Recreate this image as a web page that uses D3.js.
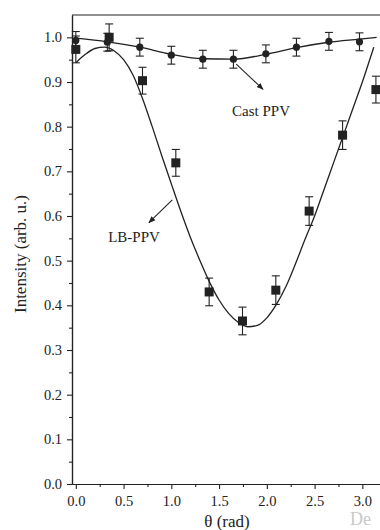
<!DOCTYPE html>
<html>
<head>
<meta charset="utf-8">
<script src="https://cdn.jsdelivr.net/npm/d3@7"></script>
<style>
  html, body { margin: 0; padding: 0; background: #fff; }
  svg { display: block; font-family: "Liberation Serif", "Times New Roman", serif; }
</style>
</head>
<body>
<svg id="chart" width="380" height="530"></svg>
<script>
// ---- data ----
const lbTheta = [0, 0.349, 0.698, 1.047, 1.396, 1.745, 2.094, 2.443, 2.793, 3.142];
const lbValue = [0.973, 1.0, 0.903, 0.719, 0.430, 0.365, 0.434, 0.611, 0.781, 0.883];
const lbError = [0.03, 0.03, 0.03, 0.03, 0.031, 0.031, 0.032, 0.032, 0.032, 0.03];

const castTheta = [0, 0.33, 0.67, 1.0, 1.33, 1.65, 1.99, 2.31, 2.65, 2.97];
const castValue = [0.993, 0.989, 0.978, 0.960, 0.951, 0.951, 0.963, 0.978, 0.991, 0.990];
const castError = [0.02, 0.02, 0.02, 0.02, 0.02, 0.02, 0.02, 0.02, 0.02, 0.02];

// fitted curves
const lbFitTheta = [0, 0.1, 0.2, 0.3, 0.4, 0.5, 0.6, 0.7, 0.8, 0.9, 1.0, 1.1, 1.2, 1.3, 1.4, 1.5, 1.6, 1.7, 1.8, 1.9, 2.0, 2.1, 2.2, 2.3, 2.4, 2.5, 2.6, 2.7, 2.8, 2.9, 3.0, 3.1, 3.12];
const lbFitValue = [0.943, 0.962, 0.975, 0.978, 0.970, 0.950, 0.915, 0.862, 0.800, 0.735, 0.672, 0.610, 0.552, 0.500, 0.452, 0.412, 0.382, 0.362, 0.352, 0.355, 0.372, 0.402, 0.442, 0.493, 0.548, 0.600, 0.660, 0.720, 0.780, 0.840, 0.900, 0.965, 0.978];

const castFitTheta = [0, 0.33, 0.67, 1.0, 1.33, 1.65, 1.99, 2.31, 2.65, 2.97, 3.15];
const castFitValue = [0.998, 0.990, 0.978, 0.962, 0.952, 0.951, 0.962, 0.977, 0.989, 0.996, 1.0];

const xTicks = [0, 0.5, 1.0, 1.5, 2.0, 2.5, 3.0];
const xMinorTicks = [0.25, 0.75, 1.25, 1.75, 2.25, 2.75, 3.25];
const yTicks = [0, 0.1, 0.2, 0.3, 0.4, 0.5, 0.6, 0.7, 0.8, 0.9, 1.0];
const yMinorTicks = [0.05, 0.15, 0.25, 0.35, 0.45, 0.55, 0.65, 0.75, 0.85, 0.95];

const xLabel = "θ (rad)";
const yLabel = "Intensity (arb. u.)";

// ---- layout ----
const padL = 72, padT = 15, padB = 484, padR = 391;
const ink = "#222";

const svg = d3.select("#chart");
const x = d3.scaleLinear().domain([-0.04, 3.3]).range([padL, padR]);
const y = d3.scaleLinear().domain([0, 1.05]).range([padB, padT]);

// frame
svg.append("line").attr("x1", padL).attr("x2", padR).attr("y1", padT).attr("y2", padT)
  .attr("stroke", ink).attr("stroke-width", 1.2);
svg.append("line").attr("x1", padR).attr("x2", padR).attr("y1", padT).attr("y2", padB)
  .attr("stroke", ink).attr("stroke-width", 1.2);

// axes
const xAxis = svg.append("g").attr("transform", `translate(0,${padB})`)
  .call(d3.axisBottom(x).tickValues(xTicks).tickFormat(d3.format(".1f")).tickSize(5).tickSizeOuter(0).tickPadding(7));
const xMinor = svg.append("g").attr("transform", `translate(0,${padB})`)
  .call(d3.axisBottom(x).tickValues(xMinorTicks).tickFormat("").tickSize(3).tickSizeOuter(0));
const yAxis = svg.append("g").attr("transform", `translate(${padL},0)`)
  .call(d3.axisLeft(y).tickValues(yTicks).tickFormat(d3.format(".1f")).tickSize(5).tickSizeOuter(0).tickPadding(5));
const yMinor = svg.append("g").attr("transform", `translate(${padL},0)`)
  .call(d3.axisLeft(y).tickValues(yMinorTicks).tickFormat("").tickSize(3).tickSizeOuter(0));

[xAxis, xMinor, yAxis, yMinor].forEach(g => {
  g.select(".domain").attr("stroke", ink).attr("stroke-width", 1.2);
  g.selectAll(".tick line").attr("stroke", ink).attr("stroke-width", 1.1);
  g.selectAll(".tick text").attr("fill", ink).style("font-size", "14.5px")
    .style("font-family", '"Liberation Serif", "Times New Roman", serif');
});

// axis titles
svg.append("text").attr("x", 227).attr("y", 527).attr("text-anchor", "middle")
  .attr("fill", ink).style("font-size", "17px").text(xLabel);
svg.append("text").attr("transform", `translate(26,${254}) rotate(-90)`).attr("text-anchor", "middle")
  .attr("fill", ink).style("font-size", "17px").text(yLabel);

// fitted curves
const line = d3.line().curve(d3.curveMonotoneX);
svg.append("path")
  .attr("d", line(lbFitTheta.map((t, i) => [x(t), y(lbFitValue[i])])))
  .attr("fill", "none").attr("stroke", ink).attr("stroke-width", 1.3);
svg.append("path")
  .attr("d", line(castFitTheta.map((t, i) => [x(t), y(castFitValue[i])])))
  .attr("fill", "none").attr("stroke", ink).attr("stroke-width", 1.3);

// error bars
function errorBars(thetas, vals, errs, cap) {
  const g = svg.append("g").attr("stroke", ink).attr("stroke-width", 1.1);
  thetas.forEach((t, i) => {
    const cx = x(t), y1 = y(vals[i] + errs[i]), y2 = y(vals[i] - errs[i]);
    g.append("line").attr("x1", cx).attr("x2", cx).attr("y1", y1).attr("y2", y2);
    g.append("line").attr("x1", cx - cap).attr("x2", cx + cap).attr("y1", y1).attr("y2", y1);
    g.append("line").attr("x1", cx - cap).attr("x2", cx + cap).attr("y1", y2).attr("y2", y2);
  });
}
errorBars(lbTheta, lbValue, lbError, 4);
errorBars(castTheta, castValue, castError, 4);

// markers
const sq = 9;
svg.append("g").selectAll("rect").data(lbTheta).join("rect")
  .attr("x", (t) => x(t) - sq / 2)
  .attr("y", (t, i) => y(lbValue[i]) - sq / 2)
  .attr("width", sq).attr("height", sq).attr("fill", ink);
svg.append("g").selectAll("circle").data(castTheta).join("circle")
  .attr("cx", (t) => x(t))
  .attr("cy", (t, i) => y(castValue[i]))
  .attr("r", 3.6).attr("fill", ink);

// annotations with arrows
const defs = svg.append("defs");
defs.append("marker").attr("id", "arrow").attr("viewBox", "0 0 10 10")
  .attr("refX", 9).attr("refY", 5).attr("markerWidth", 7).attr("markerHeight", 7)
  .attr("orient", "auto").attr("markerUnits", "userSpaceOnUse")
  .append("path").attr("d", "M0,1 L10,5 L0,9 Z").attr("fill", ink);

svg.append("line").attr("x1", x(1.68)).attr("y1", y(0.94)).attr("x2", x(1.96)).attr("y2", y(0.8835))
  .attr("stroke", ink).attr("stroke-width", 1.1).attr("marker-end", "url(#arrow)");
svg.append("text").attr("x", 261).attr("y", 116).attr("text-anchor", "middle")
  .attr("fill", ink).style("font-size", "15px").text("Cast PPV");

svg.append("line").attr("x1", x(1.01)).attr("y1", y(0.636)).attr("x2", x(0.765)).attr("y2", y(0.585))
  .attr("stroke", ink).attr("stroke-width", 1.1).attr("marker-end", "url(#arrow)");
svg.append("text").attr("x", 134).attr("y", 242).attr("text-anchor", "middle")
  .attr("fill", ink).style("font-size", "15px").text("LB-PPV");

// watermark fragment
svg.append("text").attr("x", 350).attr("y", 525).attr("fill", "#c8c8c8")
  .style("font-size", "18px").text("De");
</script>
</body>
</html>
